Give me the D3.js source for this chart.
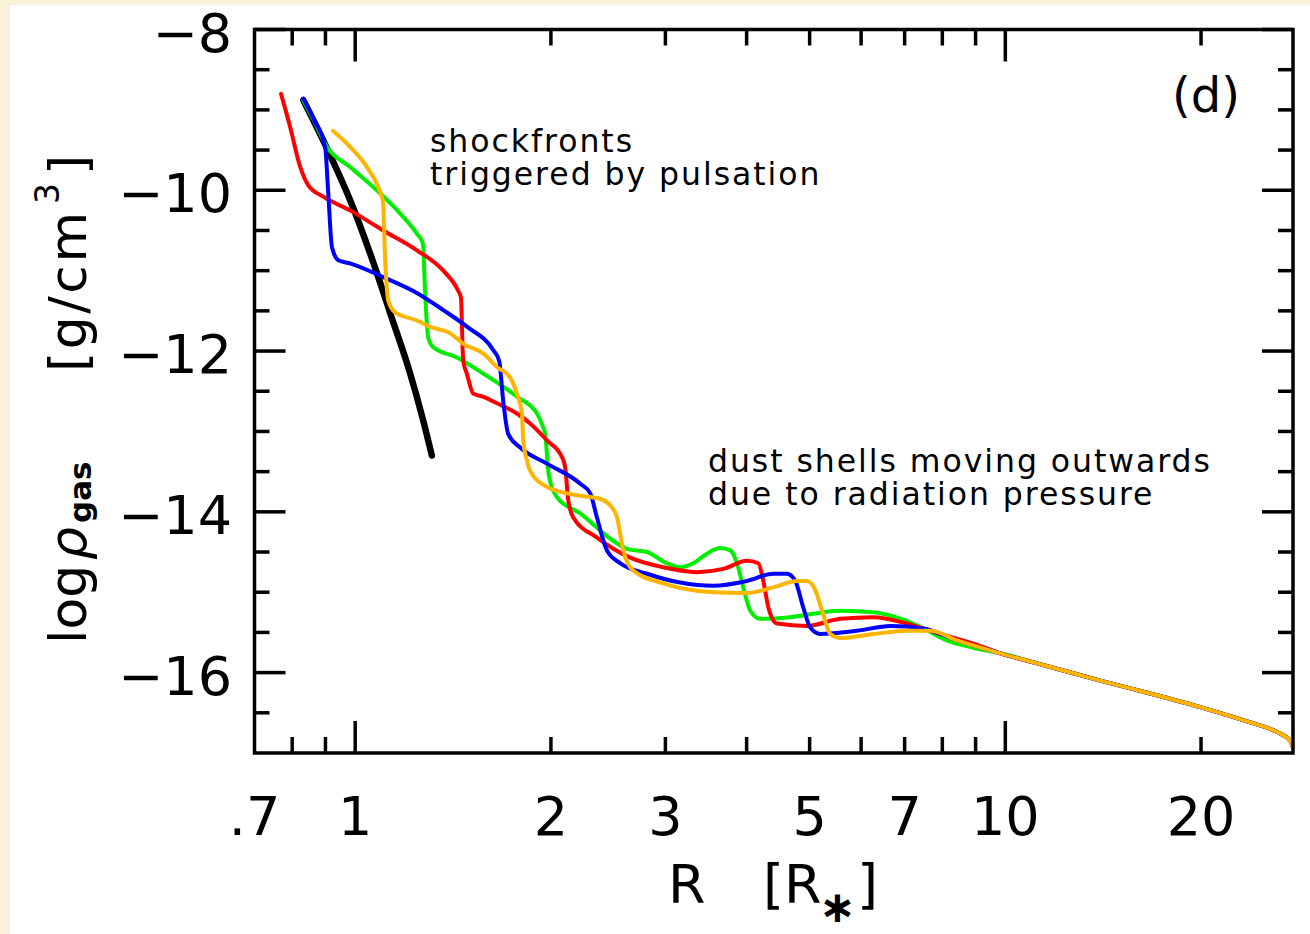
<!DOCTYPE html>
<html>
<head>
<meta charset="utf-8">
<script src="https://cdn.jsdelivr.net/npm/d3@7"></script>
<style>
  html, body { margin: 0; padding: 0; background: #f9f1da; }
  svg { display: block; }
  text { font-family: "DejaVu Sans", sans-serif; fill: #000; }
</style>
</head>
<body>
<svg id="chart" width="1310" height="934"></svg>
<script>
// ---- axis ticks ----
const xTickValues = [0.7, 1, 2, 3, 5, 7, 10, 20];
const xTickLabels = [".7", "1", "2", "3", "5", "7", "10", "20"];
const xMajorTicks = [1, 10];
const xMinorTicks = [0.8, 0.9, 2, 3, 4, 5, 6, 7, 8, 9, 20];
const yTickValues = [-8, -10, -12, -14, -16];
const yTickLabels = ["\u22128", "\u221210", "\u221212", "\u221214", "\u221216"];
const yMajorTicks = [-8, -10, -12, -14, -16];
const yMinorTicks = [-8.5, -9, -9.5, -10.5, -11, -11.5, -12.5, -13, -13.5, -14.5, -15, -15.5, -16.5];

// ---- initial hydrostatic model (black) ----
const staticR      = [0.832, 0.905, 0.983, 1.080, 1.132, 1.215, 1.272, 1.312];
const staticLogRho = [-8.88, -9.48, -10.13, -11.03, -11.53, -12.28, -12.86, -13.30];

// ---- dynamical model snapshots ----
const redR      = [0.769, 0.794, 0.823, 0.847, 0.893, 0.982, 1.104, 1.246, 1.366, 1.440, 1.454, 1.466, 1.485, 1.519, 1.575, 1.652, 1.775, 1.858, 1.972, 2.080, 2.104, 2.127, 2.165, 2.354, 2.649, 2.977, 3.356, 3.684, 4.006, 4.169, 4.244, 4.320, 4.455, 4.953, 5.575, 6.265, 7.063, 7.943, 8.929];
const redLogRho = [-8.80, -9.21, -9.71, -9.94, -10.08, -10.25, -10.50, -10.75, -11.00, -11.25, -11.33, -12.12, -12.28, -12.53, -12.57, -12.65, -12.78, -12.90, -13.11, -13.32, -13.45, -13.86, -14.07, -14.32, -14.57, -14.69, -14.75, -14.71, -14.61, -14.64, -14.86, -15.19, -15.39, -15.42, -15.33, -15.31, -15.39, -15.52, -15.64];

const greenR      = [0.832, 0.865, 0.905, 0.982, 1.093, 1.173, 1.244, 1.271, 1.281, 1.295, 1.318, 1.434, 1.574, 1.775, 1.905, 1.946, 1.960, 1.984, 2.044, 2.219, 2.494, 2.618, 2.811, 3.016, 3.162, 3.311, 3.475, 3.644, 3.776, 3.866, 3.953, 4.052, 4.199, 4.670, 5.575, 6.265, 6.895, 7.479, 8.135, 8.929];
const greenLogRho = [-8.88, -9.14, -9.46, -9.71, -10.04, -10.29, -10.54, -10.66, -11.28, -11.83, -11.95, -12.08, -12.28, -12.57, -12.78, -12.95, -13.03, -13.53, -13.82, -14.02, -14.36, -14.46, -14.50, -14.64, -14.69, -14.64, -14.52, -14.45, -14.48, -14.64, -14.94, -15.23, -15.33, -15.31, -15.23, -15.25, -15.33, -15.45, -15.60, -15.69];

const blueR      = [0.832, 0.865, 0.899, 0.909, 0.921, 0.942, 0.982, 1.104, 1.246, 1.366, 1.487, 1.631, 1.665, 1.689, 1.719, 1.794, 1.972, 2.219, 2.299, 2.354, 2.439, 2.557, 2.811, 3.162, 3.555, 4.006, 4.397, 4.615, 4.753, 4.889, 5.012, 5.193, 5.913, 6.655, 7.479, 8.428];
const blueLogRho = [-8.86, -9.13, -9.46, -10.04, -10.71, -10.87, -10.91, -11.08, -11.28, -11.49, -11.70, -11.99, -12.12, -12.62, -13.03, -13.20, -13.40, -13.65, -13.77, -14.07, -14.48, -14.64, -14.77, -14.88, -14.92, -14.86, -14.77, -14.77, -14.86, -15.19, -15.44, -15.52, -15.48, -15.42, -15.45, -15.60];

const orangeR      = [0.924, 0.982, 1.042, 1.085, 1.103, 1.112, 1.124, 1.152, 1.244, 1.304, 1.400, 1.466, 1.574, 1.652, 1.731, 1.773, 1.805, 1.813, 1.837, 1.858, 1.972, 2.219, 2.382, 2.468, 2.528, 2.584, 2.677, 2.977, 3.555, 4.006, 4.397, 4.782, 4.953, 5.104, 5.224, 5.380, 5.575, 6.265, 7.063, 7.664, 8.428];
const orangeLogRho = [-9.26, -9.46, -9.71, -9.96, -10.13, -10.87, -11.37, -11.52, -11.62, -11.70, -11.78, -11.91, -12.03, -12.20, -12.33, -12.53, -12.78, -13.11, -13.36, -13.49, -13.69, -13.80, -13.84, -13.92, -14.07, -14.48, -14.73, -14.89, -15.00, -15.01, -14.94, -14.86, -14.86, -14.98, -15.23, -15.52, -15.57, -15.52, -15.48, -15.48, -15.60];

// outer wind, common to all snapshots
const outerR      = [9.825, 11.73, 14.00, 16.71, 19.95, 23.82, 26.18, 27.45, 27.70];
const outerLogRho = [-15.76, -15.93, -16.10, -16.26, -16.43, -16.62, -16.74, -16.85, -16.93];

const annotationTop    = ["shockfronts", "triggered by pulsation"];
const annotationBottom = ["dust shells moving outwards", "due to radiation pressure"];
const panelLabel = "(d)";

// ---- layout ----
const svg = d3.select("#chart");
const plot = { left: 254.5, right: 1293, top: 29.5, bottom: 753 };

svg.append("rect").attr("x", 10).attr("y", 5).attr("width", 1300).attr("height", 929).attr("fill", "#ffffff");

const x = d3.scaleLog().domain([0.7, 27.7]).range([plot.left, plot.right]);
const y = d3.scaleLinear().domain([-17, -8]).range([plot.bottom, plot.top]);

svg.append("clipPath").attr("id", "plotClip")
  .append("rect").attr("x", plot.left).attr("y", plot.top)
  .attr("width", plot.right - plot.left).attr("height", plot.bottom - plot.top);

const line = d3.line().x(d => x(d[0])).y(d => y(d[1])).curve(d3.curveMonotoneX);
const zip = (a, b) => a.map((v, i) => [v, b[i]]);

const curves = [
  { pts: zip(staticR, staticLogRho), color: "#000000", width: 6.5 },
  { pts: zip(greenR.concat(outerR), greenLogRho.concat(outerLogRho)), color: "#00ee00", width: 4 },
  { pts: zip(redR.concat(outerR), redLogRho.concat(outerLogRho)), color: "#ff0000", width: 4 },
  { pts: zip(blueR.concat(outerR), blueLogRho.concat(outerLogRho)), color: "#0000ff", width: 4 },
  { pts: zip(orangeR.concat(outerR), orangeLogRho.concat(outerLogRho)), color: "#ffb400", width: 4 }
];

const gCurves = svg.append("g").attr("clip-path", "url(#plotClip)");
gCurves.selectAll("path").data(curves).join("path")
  .attr("d", d => line(d.pts))
  .attr("fill", "none")
  .attr("stroke", d => d.color)
  .attr("stroke-width", d => d.width)
  .attr("stroke-linejoin", "round")
  .attr("stroke-linecap", "round");

// ---- frame with inward ticks on all four sides ----
const frame = svg.append("g").attr("stroke", "#000").attr("stroke-width", 3.5).attr("fill", "none");
frame.append("rect").attr("x", plot.left).attr("y", plot.top)
  .attr("width", plot.right - plot.left).attr("height", plot.bottom - plot.top);

const xTickSets = [[xMajorTicks, 32], [xMinorTicks, 16]];
xTickSets.forEach(([vals, len]) => {
  vals.forEach(v => {
    frame.append("line").attr("x1", x(v)).attr("x2", x(v)).attr("y1", plot.bottom).attr("y2", plot.bottom - len);
    frame.append("line").attr("x1", x(v)).attr("x2", x(v)).attr("y1", plot.top).attr("y2", plot.top + len);
  });
});
const yTickSets = [[yMajorTicks, 31], [yMinorTicks, 15]];
yTickSets.forEach(([vals, len]) => {
  vals.forEach(v => {
    frame.append("line").attr("x1", plot.left).attr("x2", plot.left + len).attr("y1", y(v)).attr("y2", y(v));
    frame.append("line").attr("x1", plot.right).attr("x2", plot.right - len).attr("y1", y(v)).attr("y2", y(v));
  });
});

// ---- tick labels ----
svg.append("g").selectAll("text").data(xTickValues).join("text")
  .attr("x", d => x(d)).attr("y", 835)
  .attr("text-anchor", "middle").attr("font-size", 54)
  .text((d, i) => xTickLabels[i]);

svg.append("g").selectAll("text").data(yTickValues).join("text")
  .attr("x", 232).attr("y", d => y(d) + 22)
  .attr("text-anchor", "end").attr("font-size", 54)
  .text((d, i) => yTickLabels[i]);

// ---- axis titles ----
const xt = svg.append("g").attr("font-size", 54);
xt.append("text").attr("x", 668).attr("y", 903).text("R");
xt.append("text").attr("x", 763).attr("y", 903).text("[R");
xt.append("text").attr("x", 819).attr("y", 922).attr("font-size", 44).attr("font-weight", "bold").text("\u2217");
xt.append("text").attr("x", 857).attr("y", 903).text("]");

const yt = svg.append("g").attr("transform", "translate(86,0) rotate(-90)").attr("font-size", 52);
yt.append("text").attr("x", -644).attr("y", 0).text("log");
yt.append("text").attr("x", -560).attr("y", 0).attr("font-style", "italic").text("\u03c1");
yt.append("text").attr("x", -523).attr("y", 5).attr("font-size", 31).attr("font-weight", "bold").text("gas");
yt.append("text").attr("x", -372).attr("y", 0).attr("letter-spacing", 2.5).text("[g/cm");
yt.append("text").attr("x", -204).attr("y", -27).attr("font-size", 33).text("3");
yt.append("text").attr("x", -175).attr("y", 0).text("]");

// ---- annotations ----
const ann = svg.append("g").attr("font-size", 31.5).attr("letter-spacing", 1.95);
annotationTop.forEach((t, i) => ann.append("text").attr("x", 430).attr("y", 152 + i * 33).text(t));
annotationBottom.forEach((t, i) => ann.append("text").attr("x", 708).attr("y", 472 + i * 33).text(t));

svg.append("text").attr("x", 1240).attr("y", 112).attr("text-anchor", "end")
  .attr("font-size", 48).text(panelLabel);
</script>
</body>
</html>
